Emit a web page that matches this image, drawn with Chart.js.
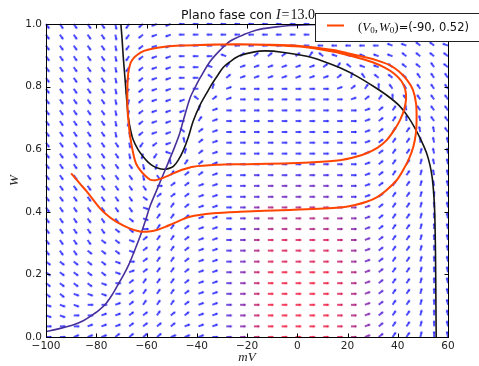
<!DOCTYPE html>
<html>
<head>
<meta charset="utf-8">
<script src="https://cdn.jsdelivr.net/npm/chart.js@4.4.0/dist/chart.umd.min.js"></script>
<style>
    html, body { margin: 0; padding: 0; background: #fff; }
    #wrap { width: 479px; height: 366px; }
</style>
</head>
<body>
<div id="wrap"><canvas id="phaseChart" width="479" height="366"></canvas></div>
<script>
// Axis ticks
var xTickLabels = ['\u2212100', '\u221280', '\u221260', '\u221240', '\u221220', '0', '20', '40', '60'];
var yTickLabels = ['0.0', '0.2', '0.4', '0.6', '0.8', '1.0'];

// Trajectory starting at (V0, W0)
var startV = -90;
var startW = 0.52;
var trajV = [-90, -86.5, -83.8, -78.5, -75, -71.9, -67, -62.6, -59, -55.9, -52.5, -49.3, -42.7, -33.4, -22.8, -2.9, 17, 23, 27.6, 32, 35.6, 39.5, 42.2, 44.5, 46.2, 47.2, 47.5, 47.3, 46, 43.6, 40.5, 37, 32, 27.6, 20, 14.3, 1, -12, -25, -38.7, -46.7, -52, -57.3, -61, -63.9, -65.7, -66.6, -67.3, -67.6, -67.6, -67.2, -66.5, -65.3, -64.2, -62.6, -60.5, -58.6, -56.5, -54.6, -52, -49.3, -45.5, -41.4, -32.1, -22.8, -2.9, 17, 23, 27.6, 32, 35.6, 38.5, 40.9, 42.5, 43.3, 43, 41.5, 38.5, 35, 30, 22, 14, 1, -12, -25, -38.7, -46.7, -52, -57.3, -61, -63.9, -65.7, -66.6, -67.3, -67.6, -67.6];
var trajW = [0.523, 0.49, 0.465, 0.411, 0.385, 0.368, 0.348, 0.337, 0.337, 0.342, 0.352, 0.363, 0.384, 0.395, 0.4, 0.406, 0.414, 0.422, 0.432, 0.448, 0.47, 0.5, 0.534, 0.57, 0.608, 0.65, 0.69, 0.745, 0.79, 0.822, 0.848, 0.868, 0.883, 0.893, 0.907, 0.917, 0.93, 0.934, 0.935, 0.933, 0.931, 0.928, 0.922, 0.914, 0.9, 0.885, 0.869, 0.84, 0.8, 0.74, 0.693, 0.64, 0.587, 0.555, 0.534, 0.515, 0.503, 0.501, 0.505, 0.513, 0.523, 0.535, 0.544, 0.55, 0.552, 0.555, 0.565, 0.575, 0.587, 0.605, 0.629, 0.66, 0.693, 0.725, 0.76, 0.79, 0.817, 0.842, 0.86, 0.878, 0.897, 0.912, 0.928, 0.933, 0.935, 0.933, 0.931, 0.928, 0.922, 0.914, 0.9, 0.885, 0.869, 0.84, 0.8, 0.74];

// V nullcline (black)
var vNullV = [-70.2, -69.7, -69.3, -68.8, -68.3, -67.8, -67.2, -66.3, -65.3, -63.3, -61.3, -59.3, -57.3, -55.3, -53.3, -51.3, -49.3, -47.3, -45.3, -43.3, -41.4, -38.7, -36, -34, -31.5, -29.4, -26, -22.8, -17, -12.8, -6, 3.8, 10, 17, 24, 30.3, 36, 40.5, 44, 47, 49.5, 51.5, 52.8, 53.7, 54.2, 54.6, 54.8, 55, 55.1, 55.2, 55.3];
var vNullW = [1.0, 0.95, 0.9, 0.85, 0.8, 0.75, 0.7, 0.66, 0.63, 0.598, 0.576, 0.558, 0.546, 0.539, 0.536, 0.538, 0.545, 0.566, 0.597, 0.64, 0.69, 0.741, 0.78, 0.808, 0.838, 0.862, 0.884, 0.899, 0.911, 0.914, 0.91, 0.897, 0.882, 0.86, 0.832, 0.801, 0.77, 0.74, 0.705, 0.665, 0.625, 0.587, 0.55, 0.51, 0.47, 0.42, 0.37, 0.28, 0.2, 0.1, 0.0];

// W nullcline (purple)
var wNullV = [-100, -95, -89, -85, -82.5, -79, -76, -73.5, -71.5, -69, -67, -64.8, -62.6, -60.5, -58.5, -55.9, -52.5, -49.3, -47, -45.3, -42.7, -40.5, -38.5, -34.7, -30.5, -26.8, -21, -16.1, -9, -2.9, 5, 15, 60];
var wNullW = [0.017, 0.026, 0.039, 0.053, 0.065, 0.085, 0.108, 0.137, 0.165, 0.2, 0.232, 0.275, 0.32, 0.37, 0.42, 0.47, 0.535, 0.597, 0.645, 0.693, 0.763, 0.8, 0.83, 0.88, 0.918, 0.945, 0.967, 0.981, 0.99, 0.995, 0.998, 1.0, 1.0];

// Direction field grid
var gridV = [-100, -94.48, -88.97, -83.45, -77.93, -72.41, -66.9, -61.38, -55.86, -50.34, -44.83, -39.31, -33.79, -28.28, -22.76, -17.24, -11.72, -6.21, -0.69, 4.83, 10.34, 15.86, 21.38, 26.9, 32.41, 37.93, 43.45, 48.97, 54.48, 60];
var gridW = [0, 0.034, 0.069, 0.103, 0.138, 0.172, 0.207, 0.241, 0.276, 0.31, 0.345, 0.379, 0.414, 0.448, 0.483, 0.517, 0.552, 0.586, 0.621, 0.655, 0.69, 0.724, 0.759, 0.793, 0.828, 0.862, 0.897, 0.931, 0.966, 1];

// arrow slope per cell, top row first (lowercase points right, uppercase points left)
var arrowDir = [
    "bbbbbaHGFFEEEEEEEEEEEEEEEEEEDD",
    "bbbbbaHGFFEEEEEEEEEEEEEEEEDDDD",
    "bbbbbaHGFFEEEEEEEEEEEEEEEDDCCD",
    "bbbbbaHGFFEEEDggggghCDDDDDCCCC",
    "bbbbbaHGFFEEDhffffffghCDDCCCBC",
    "bbbbbaHGFFEECgfffffffgiBCCCBBB",
    "bbbbbaHGFFEEifeeeeeeefghjBBBBB",
    "bbbbbaIGFFFCgfeeeeeeeefghjBBBB",
    "bbbbbaIGFFFifeeeeeeeeeefghABBB",
    "bbbbbaIGFFEhfeeeeeeeeeefghjABB",
    "bbbbbaaGFFCgfeeeeeeeeeefghhAAB",
    "bbbbbbaHGFAgfeeeeeeeeeefghhjAA",
    "bbbbbbaIHDigfeeeeeeeeeefghhiAA",
    "bbbbbbbaIAhgfeeeeeeeeeefghhiAA",
    "bbbbbbbabhggfeeeeeeeeeefghhiAA",
    "bbbbbbbbeggffeeeeeeeeeefghhiAA",
    "bbbbbbbcgggffeeeeeeeeeefghhijA",
    "bbbbbbbdhhgffeeeeeeeeeefghhijA",
    "bbbbbbcdhhgffeeeeeeeeeefghhijA",
    "bbbbbccehhgffeeeeeeeeeefghhijA",
    "bbbbccdghhgffeeeeeeeeeefghhijA",
    "bbbcccdghhgffeeeeeeeeeefghhijA",
    "cccccdeghhgffeeeeeeeeeefghhijA",
    "cccccdfghhgffeeeeeeeeeefghhijA",
    "ccccdeghhhgffeeeeeeeeeefghhijA",
    "ccdddeghhhgffeeeeeeeeeefghhijA",
    "dddeefghhhgffeeeeeeeeeefghhijA",
    "ddeeffgghggffeeeeeeeeeefghhijA",
    "eeefffggggfffeeeeeeeeeefghhijA",
    "eefffggggfffeeeeeeeeeeefghhijA"
];

// arrow speed level 0 (blue) .. 9 (red), top row first
var arrowMag = [
    "000000000000000000000000000000",
    "000000000000000000000000000000",
    "000000000000000000000000000000",
    "000000000000000000000000000000",
    "000000000000000000000000000000",
    "000000000000000000000000000000",
    "000000000000000000000000000000",
    "000000000000000000000000000000",
    "000000000000000000000000000000",
    "000000000000000000000000000000",
    "000000000000000000000000000000",
    "000000000000000000000000000000",
    "000000000000000000000000000000",
    "000000000000000111111100000000",
    "000000000000000111111100000000",
    "000000000000001233333210000000",
    "000000000000001233333210000000",
    "000000000000002466666542000000",
    "000000000000002466666542000000",
    "000000000000002466666542000000",
    "000000000000013688888753100000",
    "000000000000013688888753100000",
    "000000000000013688888753100000",
    "000000000000024799999864200000",
    "000000000000024799999864200000",
    "000000000000024799999864200000",
    "000000000000024799999864200000",
    "000000000000024799999864200000",
    "000000000000024799999864200000",
    "000000000000024799999864200000"
];

var codeAngles = { a: -78, b: -55, c: -38, d: -20, e: 0, f: 20, g: 38, h: 55, i: 75, j: 90 };

// Pre-drawn arrow sprites, one per colour level
function makeArrow(color) {
    var size = 14;
    var c = document.createElement('canvas');
    c.width = size;
    c.height = size;
    var g = c.getContext('2d');
    var cx = size / 2, cy = size / 2;
    g.fillStyle = color;
    g.beginPath();
    g.moveTo(cx, cy - 0.65);
    g.lineTo(cx + 3.8, cy - 0.65);
    g.lineTo(cx + 3.8, cy - 1.6);
    g.lineTo(cx + 6.2, cy);
    g.lineTo(cx + 3.8, cy + 1.6);
    g.lineTo(cx + 3.8, cy + 0.65);
    g.lineTo(cx, cy + 0.65);
    g.closePath();
    g.fill();
    return c;
}

var arrowSprites = [];
for (var m = 0; m <= 9; m++) {
    var t = m / 9;
    var r = Math.round(25 + (240 - 25) * t);
    var gg = Math.round(25 - 15 * t);
    var b = Math.round(255 - (255 - 50) * t);
    arrowSprites.push(makeArrow('rgb(' + r + ',' + gg + ',' + b + ')'));
}

var quiverPoints = [];
arrowDir.forEach(function (row, rIdx) {
    var j = gridW.length - 1 - rIdx;
    for (var k = 0; k < gridV.length; k++) {
        quiverPoints.push({
            x: gridV[k],
            y: gridW[j],
            code: row[k] || 'e',
            mag: parseInt(arrowMag[rIdx][k] || '0', 10)
        });
    }
});

var toPoints = (xs, ys) => xs.map((v, i) => ({ x: v, y: ys[i] }));

// Text pieces for title and legend
var titlePrefix = 'Plano fase con ';
var titleVar = 'I';
var titleValue = '13.0';

var serif = '"Liberation Serif", "DejaVu Serif", serif';
var sans = '"DejaVu Sans", sans-serif';

function drawRuns(g, runs, x, y) {
    runs.forEach(run => {
        g.font = run.font;
        x += run.before || 0;
        g.fillText(run.text, x, y + (run.dy || 0));
        x += g.measureText(run.text).width + (run.after || 0);
    });
    return x;
}

function runsWidth(g, runs) {
    var w = 0;
    runs.forEach(run => {
        g.font = run.font;
        w += (run.before || 0) + g.measureText(run.text).width + (run.after || 0);
    });
    return w;
}

var framePlugin = {
    id: 'frame',
    afterDatasetsDraw: function (chart) {
        var g = chart.ctx;
        var a = chart.chartArea;
        var xs = chart.scales.x, ys = chart.scales.y;
        g.save();
        g.strokeStyle = '#000';
        g.lineWidth = 1;
        var l = Math.round(a.left) + 0.5, rr = Math.round(a.right) + 0.5;
        var tp = Math.round(a.top) + 0.5, bt = Math.round(a.bottom) + 0.5;
        g.strokeRect(l, tp, rr - l, bt - tp);
        g.beginPath();
        xs.ticks.forEach(tk => {
            var px = Math.round(xs.getPixelForValue(tk.value)) + 0.5;
            g.moveTo(px, bt); g.lineTo(px, bt - 4);
            g.moveTo(px, tp); g.lineTo(px, tp + 4);
        });
        ys.ticks.forEach(tk => {
            var py = Math.round(ys.getPixelForValue(tk.value)) + 0.5;
            g.moveTo(l, py); g.lineTo(l + 4, py);
            g.moveTo(rr, py); g.lineTo(rr - 4, py);
        });
        g.stroke();
        g.restore();
    }
};

var textPlugin = {
    id: 'texts',
    afterDraw: function (chart) {
        var g = chart.ctx;
        var a = chart.chartArea;
        g.save();
        g.fillStyle = '#111';
        g.textBaseline = 'alphabetic';

        // title
        var titleRuns = [
            { text: titlePrefix, font: '12.5px ' + sans },
            { text: titleVar, font: 'italic 14px ' + serif },
            { text: '=', font: '14px ' + serif, before: 1, after: 1 },
            { text: titleValue, font: '14px ' + serif }
        ];
        var tw = runsWidth(g, titleRuns);
        drawRuns(g, titleRuns, (a.left + a.right) / 2 - tw / 2 + 1, 18.5);

        // legend box
        g.fillStyle = '#fff';
        g.fillRect(315.5, 13.5, 170, 28);
        g.strokeStyle = '#222';
        g.lineWidth = 1;
        g.strokeRect(315.5, 13.5, 170, 28);
        g.strokeStyle = '#ff4500';
        g.lineWidth = 2;
        g.beginPath();
        g.moveTo(327, 25.5);
        g.lineTo(344, 25.5);
        g.stroke();

        g.fillStyle = '#111';
        var legendRuns = [
            { text: '(', font: '13px ' + serif },
            { text: 'V', font: 'italic 13px ' + serif },
            { text: '0', font: '9px ' + serif, dy: 2.5 },
            { text: ',', font: '13px ' + serif, after: 1 },
            { text: 'W', font: 'italic 13px ' + serif },
            { text: '0', font: '9px ' + serif, dy: 2.5 },
            { text: ')', font: '13px ' + serif },
            { text: '=(' + startV + ', ' + startW + ')', font: '11.5px ' + sans }
        ];
        drawRuns(g, legendRuns, 358, 30.5);
        g.restore();
    }
};

var ctx = document.getElementById('phaseChart').getContext('2d');

var phaseChart = new Chart(ctx, {
    type: 'scatter',
    data: {
        datasets: [
            {
                label: 'trajectory',
                data: toPoints(trajV, trajW),
                showLine: true,
                borderColor: '#ff4500',
                borderWidth: 2,
                pointRadius: 0,
                tension: 0.3,
                order: 1
            },
            {
                label: 'W nullcline',
                data: toPoints(wNullV, wNullW),
                showLine: true,
                borderColor: '#48309a',
                borderWidth: 1.6,
                pointRadius: 0,
                tension: 0.3,
                order: 2
            },
            {
                label: 'V nullcline',
                data: toPoints(vNullV, vNullW),
                showLine: true,
                borderColor: '#151515',
                borderWidth: 1.6,
                pointRadius: 0,
                tension: 0.3,
                order: 3
            },
            {
                label: 'field',
                data: quiverPoints,
                showLine: false,
                pointRadius: 3,
                clip: false,
                pointStyle: function (c) {
                    if (!c.raw) return 'circle';
                    return arrowSprites[c.raw.mag] || arrowSprites[0];
                },
                rotation: function (c) {
                    if (!c.raw) return 0;
                    var code = c.raw.code;
                    var low = code.toLowerCase();
                    var ang = codeAngles[low] || 0;
                    return code === low ? -ang : 180 - ang;
                },
                order: 4
            }
        ]
    },
    options: {
        responsive: false,
        animation: false,
        devicePixelRatio: 1,
        events: [],
        layout: {
            padding: { top: 24, right: 31, left: 0, bottom: 0 }
        },
        plugins: {
            legend: { display: false },
            tooltip: { enabled: false },
            title: { display: false }
        },
        scales: {
            x: {
                type: 'linear',
                min: -100,
                max: 60,
                afterFit: function (scale) { scale.height = 29; },
                grid: { display: false, drawTicks: false },
                border: { display: false },
                ticks: {
                    stepSize: 20,
                    maxRotation: 0,
                    padding: 3,
                    color: '#222',
                    font: { family: 'DejaVu Sans', size: 10.5 },
                    callback: function (value, index) { return xTickLabels[index]; }
                },
                title: {
                    display: true,
                    text: 'mV',
                    color: '#222',
                    font: { family: 'Liberation Serif', style: 'italic', size: 13 },
                    padding: { top: 0, bottom: 1 }
                }
            },
            y: {
                type: 'linear',
                min: 0,
                max: 1,
                afterFit: function (scale) { scale.width = 46; },
                grid: { display: false, drawTicks: false },
                border: { display: false },
                ticks: {
                    stepSize: 0.2,
                    padding: 4,
                    color: '#222',
                    font: { family: 'DejaVu Sans', size: 10.5 },
                    callback: function (value, index) { return yTickLabels[index]; }
                },
                title: {
                    display: true,
                    text: 'W',
                    color: '#222',
                    font: { family: 'Liberation Serif', style: 'italic', size: 13 },
                    padding: { top: 7, bottom: 0 }
                }
            }
        }
    },
    plugins: [framePlugin, textPlugin]
});
</script>
</body>
</html>
